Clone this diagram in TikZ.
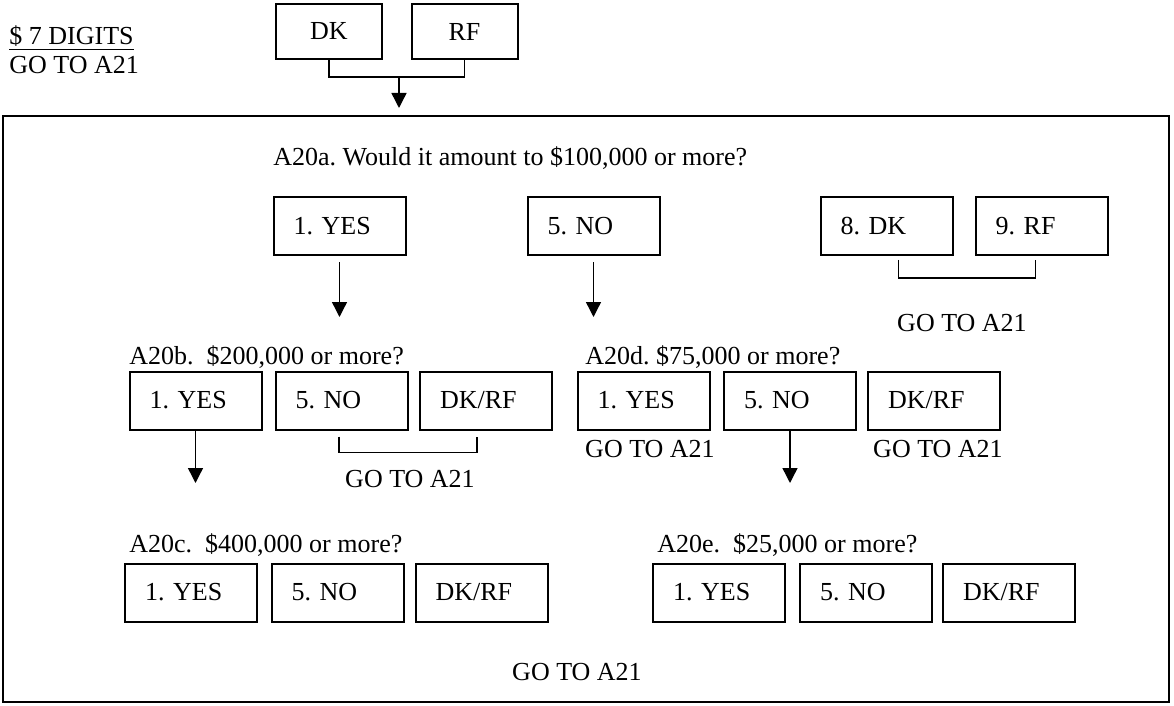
\documentclass[tikz,border=0pt]{standalone}
\usepackage{fontspec}
\setmainfont{Liberation Serif}
\usetikzlibrary{arrows.meta}

\begin{document}
\begin{tikzpicture}[x=0.5pt, y=-0.5pt,
    every node/.style={font=\fontsize{13}{15.6}\selectfont\frenchspacing},
    optbox/.style={draw, line width=1pt, text width=46pt, align=left, inner xsep=10pt, inner ysep=0pt, minimum height=29pt},
    topbox/.style={draw, line width=1pt, minimum width=53pt, minimum height=27.5pt, inner sep=0pt},
    txt/.style={anchor=base west, inner sep=0pt},
    lbl/.style={inner sep=0pt},
    arr/.style={line width=0.7pt, -{Triangle[length=7.5pt, width=7.5pt]}},
    brk/.style={line width=0.7pt}]

    \useasboundingbox (0, 0) rectangle (1174, 706);

    \node[txt] (dig) at (9, 45) {\underline{\$ 7 DIGITS}};
    \node[txt] (goTop) at (9, 74) {GO TO A21};
    \node[topbox] (dk) at (329, 31.5) {DK};
    \node[topbox] (rf) at (464.5, 31.5) {RF};
    \coordinate (j) at (399, 77);
    \coordinate (jt) at (399, 108);
    \draw[brk] (dk.south) -- (dk.south |- j) -- (rf.south |- j) -- (rf.south);
    \draw[arr] (j) -- (jt);

    \draw[line width=1pt] (3, 116) rectangle (1169, 702);

    \node[txt] (qA) at (273, 166) {A20a. Would it amount to \$100,000 or more?};
    \node[optbox] (yesA) at (339.5, 226) {1. YES};
    \node[optbox] (noA) at (593.5, 226) {5. NO};
    \node[optbox] (dkA) at (886.5, 226) {8. DK};
    \node[optbox] (rfA) at (1041.5, 226) {9. RF};
    \coordinate (tA) at (339.5, 317);
    \coordinate (tB) at (593.5, 317);
    \draw[arr, shorten <=3pt] (yesA) -- (tA);
    \draw[arr, shorten <=3pt] (noA) -- (tB);
    \draw[brk] ([xshift=6pt, yshift=-2pt]dkA.south) -- ++(0pt, -9pt) -| ([xshift=-3pt, yshift=-2pt]rfA.south);
    \node[lbl] (goA) at (962, 323) {GO TO A21};

    \node[txt] (qB) at (129, 364) {A20b.\ \ \$200,000 or more?};
    \node[optbox] (yesB) at (195.5, 400.5) {1. YES};
    \node[optbox] (noB) at (341.5, 400.5) {5. NO};
    \node[optbox] (dkrfB) at (486, 400.5) {DK/RF};
    \coordinate (tC) at (195.5, 483);
    \draw[arr] (yesB) -- (tC);
    \draw[brk] ([xshift=-1.25pt, yshift=-3pt]noB.south) -- ++(0pt, -8pt) -| ([xshift=-4.5pt, yshift=-3pt]dkrfB.south);
    \node[lbl] (goB) at (410, 479) {GO TO A21};

    \node[txt] (qD) at (585, 364) {A20d. \$75,000 or more?};
    \node[optbox] (yesD) at (643.5, 400.5) {1. YES};
    \node[optbox] (noD) at (790, 400.5) {5. NO};
    \node[optbox] (dkrfD) at (934, 400.5) {DK/RF};
    \node[lbl] (goD1) at (650, 449) {GO TO A21};
    \node[lbl] (goD2) at (938, 449) {GO TO A21};
    \coordinate (tD) at (790, 483);
    \draw[arr] (noD) -- (tD);

    \node[txt] (qC) at (129, 552) {A20c.\ \ \$400,000 or more?};
    \node[optbox] (yesC) at (191, 592.5) {1. YES};
    \node[optbox] (noC) at (337.5, 592.5) {5. NO};
    \node[optbox] (dkrfC) at (481.5, 592.5) {DK/RF};

    \node[txt] (qE) at (657, 552) {A20e.\ \ \$25,000 or more?};
    \node[optbox] (yesE) at (719, 592.5) {1. YES};
    \node[optbox] (noE) at (866, 592.5) {5. NO};
    \node[optbox] (dkrfE) at (1009, 592.5) {DK/RF};

    \node[lbl] (goC) at (577, 672) {GO TO A21};

\end{tikzpicture}
\end{document}
